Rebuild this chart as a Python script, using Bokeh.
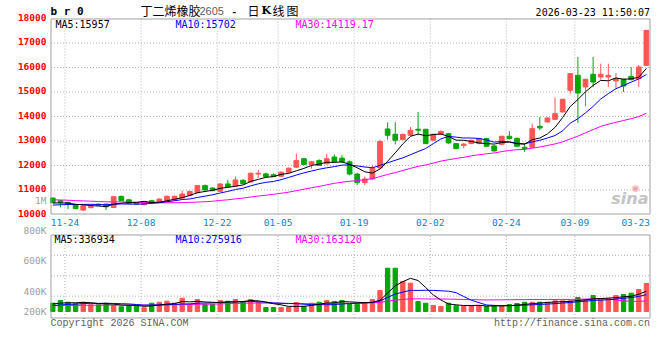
import numpy as np
from bokeh.plotting import figure
from bokeh.models import Range1d, ColumnDataSource
from bokeh.core.properties import value
from bokeh.embed import file_html
from bokeh.resources import INLINE

# ---------------- data ----------------
date_labels = ["11-24", "12-08", "12-22", "01-05", "01-19", "02-02", "02-24", "03-09", "03-23"]
date_index = [2, 12, 22, 30, 40, 50, 60, 69, 78]

open_ = [10670, 10560, 10490, 10400, 10180, 10280, 10420, 10425, 10288, 10740,
         10600, 10490, 10400, 10560, 10490, 10560, 10590, 10670, 10770, 10890,
         11180, 11080, 10945, 11247, 11165, 11400, 11330, 11650, 11658, 11620,
         11560, 11726, 11932, 12275, 12040, 12206, 12069, 12343, 12300, 12150,
         11650, 11300, 11450, 11900, 13491, 13274, 13056, 13233, 13480, 13478,
         13029, 13274, 13301, 12893, 12820, 12893, 12893, 13097, 12798, 12866,
         13192, 13110, 12743, 12743, 13600, 13777, 13886, 14185, 15069, 15681,
         15205, 15722, 15613, 15613, 15450, 15518, 15640, 15545, 16089]
high = [10700, 10600, 10530, 10410, 10370, 10370, 10450, 10440, 10740, 10770,
        10620, 10510, 10540, 10600, 10650, 10780, 10770, 10973, 10960, 11200,
        11220, 11110, 11270, 11410, 11550, 11420, 11720, 11820, 11700, 11680,
        11760, 11920, 12490, 12300, 12180, 12250, 12480, 12450, 12420, 12200,
        11700, 11550, 12000, 13050, 13763, 13777, 13300, 13573, 14185, 13500,
        13300, 13420, 13330, 12920, 12920, 13060, 13120, 13130, 12830, 13220,
        13400, 13130, 12880, 13709, 13981, 13960, 14770, 14730, 15770, 16429,
        15540, 16429, 16157, 16157, 15776, 15540, 16021, 16100, 17530]
low = [10460, 10290, 10220, 10220, 10150, 10250, 10350, 10180, 10270, 10550,
       10430, 10400, 10380, 10450, 10470, 10540, 10570, 10650, 10750, 10870,
       10980, 10950, 10930, 11120, 11140, 11240, 11300, 11490, 11530, 11530,
       11540, 11700, 11900, 12020, 11870, 11980, 12050, 12140, 12100, 11600,
       11200, 11200, 11400, 11850, 13056, 12866, 13030, 13200, 13233, 12870,
       13000, 13250, 12890, 12670, 12700, 12870, 12870, 12750, 12570, 12840,
       13060, 12750, 12553, 12720, 13437, 13750, 13860, 14160, 14933, 13736,
       14416, 15205, 15504, 15205, 15137, 15001, 15480, 15205, 16070]
close = [10490, 10480, 10420, 10240, 10356, 10330, 10380, 10315, 10726, 10562,
         10450, 10425, 10520, 10480, 10630, 10740, 10740, 10836, 10945, 11180,
         11000, 10973, 11247, 11137, 11410, 11260, 11685, 11680, 11550, 11550,
         11726, 11890, 12206, 12040, 12150, 12000, 12275, 12165, 12150, 11650,
         11300, 11450, 11900, 12980, 13233, 13029, 13274, 13437, 13440, 12893,
         13274, 13396, 12920, 12689, 12870, 13029, 13097, 12784, 12594, 13192,
         13097, 12784, 12689, 13505, 13532, 13940, 14117, 14702, 15750, 14960,
         15518, 15409, 15722, 15681, 15545, 15246, 15504, 16021, 17517]
volume = [137000, 181000, 153000, 127000, 153000, 110000, 110000, 137000, 99000, 78000,
          99000, 87000, 61000, 137000, 153000, 170000, 137000, 219000, 115000, 198000,
          115000, 115000, 181000, 170000, 198000, 160000, 198000, 153000, 66000, 66000,
          66000, 71000, 148000, 82000, 137000, 153000, 181000, 165000, 181000, 115000,
          120000, 148000, 198000, 346000, 714000, 714000, 495000, 467000, 165000, 137000,
          99000, 82000, 137000, 94000, 82000, 99000, 99000, 82000, 99000, 87000,
          115000, 132000, 153000, 153000, 153000, 153000, 176000, 176000, 176000, 231000,
          198000, 264000, 198000, 214000, 264000, 280000, 302000, 363000, 462000]

# sessions before the first bar (estimated from where the MA lines start)
prev_close = [10760, 10740, 10720, 10700, 10690, 10710, 10730, 10720, 10700, 10690,
              10700, 10720, 10730, 10710, 10700, 10690, 10700, 10720, 10710, 10690,
              10350, 10300, 10280, 10290, 10290, 10440, 10460, 10480, 10460]
prev_volume = [90000, 95000, 100000, 92000, 88000, 96000, 98000, 94000, 90000, 97000,
               95000, 93000, 91000, 96000, 99000, 94000, 92000, 90000, 95000, 95000,
               70000, 68000, 72000, 66000, 69000, 120000, 125000, 118000, 125000]

price_ticks = [10000, 11000, 12000, 13000, 14000, 15000, 16000, 17000, 18000]
vol_tick_labels = ["1M", "800K", "600K", "400K", "200K"]
ma_price_labels = ["MA5:15957", "MA10:15702", "MA30:14119.17"]
ma_vol_labels = ["MA5:336934", "MA10:275916", "MA30:163120"]
symbol_text = "b r 0"
title_parts = ["丁二烯橡胶", "2605", "-", "日", "K", "线", "图"]
timestamp = "2026-03-23 11:50:07"
copyright_text = "Copyright 2026 SINA.COM"
url_text = "http://finance.sina.com.cn"

# ---------------- helpers ----------------
def rolling(vals, prev, n):
    full = list(prev) + list(vals)
    k = len(prev)
    return [float(np.mean(full[k + i - n + 1:k + i + 1])) for i in range(len(vals))]

RED = "#ff5555"
GREEN = "#00a800"
GRID = "#b4b4b4"
FRAME = "#a0a0a0"
MONO = "DejaVu Sans Mono"
W, H = 660, 340

# page geometry in pixels -> data units
BAR0, PXB = 52.3, 7.61            # centre of first bar, pixels per bar
def xd(ax):
    return (ax - BAR0) / PXB

P_TOP, P_BOT = 18.0, 214.0        # pixel rows of 18000 and 10000
def py(ay):
    return 10000 + (P_BOT - ay) * 8000.0 / (P_BOT - P_TOP)

V_ZERO, V_PX = 311.0, 16500.0     # pixel row of zero volume, volume per pixel
def vy(ay):
    return (V_ZERO - ay) * V_PX

L_EDGE, R_EDGE = 50.5, 649.5
V_TOP, V_BOT, V_GRID_BOT = 234.5, 317.5, 316.0

n = len(close)
idx = list(range(n))
colors = [RED if c >= o else GREEN for o, c in zip(open_, close)]
src = ColumnDataSource(dict(
    x=idx, h=high, l=low, v=volume, col=colors,
    top=[max(o, c) for o, c in zip(open_, close)],
    bot=[min(o, c) for o, c in zip(open_, close)],
))

GRID_SHIFT = -0.4
grid_x = [i + GRID_SHIFT for i in date_index[:-1]]

p = figure(width=W, height=H, x_range=Range1d(xd(0), xd(W)),
           y_range=Range1d(py(H), py(0)),
           output_backend="svg", toolbar_location=None,
           x_axis_location=None, y_axis_location=None, min_border=0)
p.extra_y_ranges = {"vol": Range1d(vy(H), vy(0))}
p.outline_line_color = None
p.grid.visible = False

# ---- grid lines ----
p.segment(x0=[xd(L_EDGE)] * 7, x1=[xd(R_EDGE)] * 7, y0=price_ticks[1:-1], y1=price_ticks[1:-1],
          line_color=GRID, line_dash="1 2", line_width=1)
p.segment(x0=grid_x, x1=grid_x, y0=[py(P_BOT)] * len(grid_x), y1=[py(P_TOP)] * len(grid_x),
          line_color=GRID, line_dash="1 2", line_width=1)
vgrid = [vy(V_TOP + (V_GRID_BOT - V_TOP) * k / 4.0) for k in (1, 2, 3)]
p.segment(x0=[xd(L_EDGE)] * 3, x1=[xd(R_EDGE)] * 3, y0=vgrid, y1=vgrid,
          line_color=GRID, line_dash="1 2", line_width=1, y_range_name="vol")
p.segment(x0=grid_x, x1=grid_x, y0=[vy(V_BOT)] * len(grid_x), y1=[vy(V_TOP)] * len(grid_x),
          line_color=GRID, line_dash="1 2", line_width=1, y_range_name="vol")

# ---- candles ----
p.segment(x0="x", y0="l", x1="x", y1="h", color="col", line_width=1, source=src)
p.vbar(x="x", width=0.62, top="top", bottom="bot", fill_color="col", line_color="col",
       line_width=1, source=src)
p.line(idx, rolling(close, prev_close, 30), color="#ff00ff", line_width=1)
p.line(idx, rolling(close, prev_close, 10), color="#0000ff", line_width=1)
p.line(idx, rolling(close, prev_close, 5), color="#000000", line_width=1)

# ---- volume ----
p.vbar(x="x", width=0.57, top="v", bottom=0, fill_color="col", line_color="col",
       line_width=1, source=src, y_range_name="vol")
p.line(idx, rolling(volume, prev_volume, 30), color="#ff00ff", line_width=1, y_range_name="vol")
p.line(idx, rolling(volume, prev_volume, 10), color="#0000ff", line_width=1, y_range_name="vol")
p.line(idx, rolling(volume, prev_volume, 5), color="#000000", line_width=1, y_range_name="vol")

# ---- panel frames ----
p.quad(left=[xd(L_EDGE)], right=[xd(R_EDGE)], bottom=[py(P_BOT - 0.5)], top=[py(P_TOP + 0.5)],
       fill_color=None, line_color=FRAME, line_width=1)
p.quad(left=[xd(L_EDGE)], right=[xd(R_EDGE)], bottom=[vy(V_BOT)], top=[vy(V_TOP)],
       fill_color=None, line_color=FRAME, line_width=1, y_range_name="vol")

# ---- texts ----
def txt(xs, ys, texts, color="#000000", align="left", size="10px", font=MONO,
        style="normal", rng="default", y_offset=0):
    p.text(x=xs, y=ys, text=texts, text_color=color, text_align=align,
           text_baseline="middle", text_font_size=size, text_font=value(font),
           text_font_style=style, y_range_name=rng, y_offset=y_offset)

# price axis (red) and date axis (blue)
txt([xd(46)] * len(price_ticks), price_ticks, [str(t) for t in price_ticks],
    color="#ff0000", align="right", size="9.5px", style="bold", y_offset=-1.5)
txt(grid_x, [py(222)] * len(grid_x), date_labels[:-1], color="#0a84d0", align="center", size="9.5px")
txt([xd(R_EDGE)], [py(222)], date_labels[-1:], color="#0a84d0", align="right", size="9.5px")

# volume axis (grey)
txt([xd(46)] * 5, [vy(a) for a in (200, 230, 260, 291, 310.5)], vol_tick_labels,
    color="#a0a0a0", align="right", size="9.5px", rng="vol")

# header
txt([xd(50)], [py(11)], [symbol_text], size="11px", style="bold")
tx = [140, 199, 232, 247, 261, 272, 286]
for t, x in zip(title_parts, tx):
    if t == "2605":
        txt([xd(x)], [py(10.5)], [t], color="#606060", size="11px", font="Liberation Sans")
    elif t == "-":
        txt([xd(x)], [py(10)], [t], size="11px", font="Liberation Sans", style="bold")
    elif t == "K":
        txt([xd(x)], [py(10)], [t], size="11px", font="DejaVu Serif", style="bold")
    else:
        txt([xd(x)], [py(9.5)], [t], size="12px", font="Noto Sans CJK SC")
txt([xd(649.5)], [py(11.5)], [timestamp], align="right", size="10px")

# moving-average legends
txt([xd(55)], [py(23.7)], ma_price_labels[:1], color="#000000")
txt([xd(175)], [py(23.7)], ma_price_labels[1:2], color="#0000ff")
txt([xd(295)], [py(23.7)], ma_price_labels[2:3], color="#ff00ff")
txt([xd(54)], [vy(238.5)], ma_vol_labels[:1], color="#000000", rng="vol")
txt([xd(175)], [vy(238.5)], ma_vol_labels[1:2], color="#0000ff", rng="vol")
txt([xd(295)], [vy(238.5)], ma_vol_labels[2:3], color="#ff00ff", rng="vol")

# watermark
txt([xd(648)], [py(198)], ["sina"], color="#c4c4c4", align="right", size="16px",
    font="DejaVu Sans", style="bold italic")
txt([xd(635)], [py(187)], ["◉"], color="#f0a0a0", align="center", size="9px", font="DejaVu Sans")

# footer
txt([xd(50)], [vy(323)], [copyright_text], color="#606060", size="10px",
    font="Liberation Mono", rng="vol")
txt([xd(649.5)], [vy(323)], [url_text], color="#606060", align="right", size="10px",
    font="Liberation Mono", rng="vol")

open("out.html", "w").write(file_html(p, INLINE))
